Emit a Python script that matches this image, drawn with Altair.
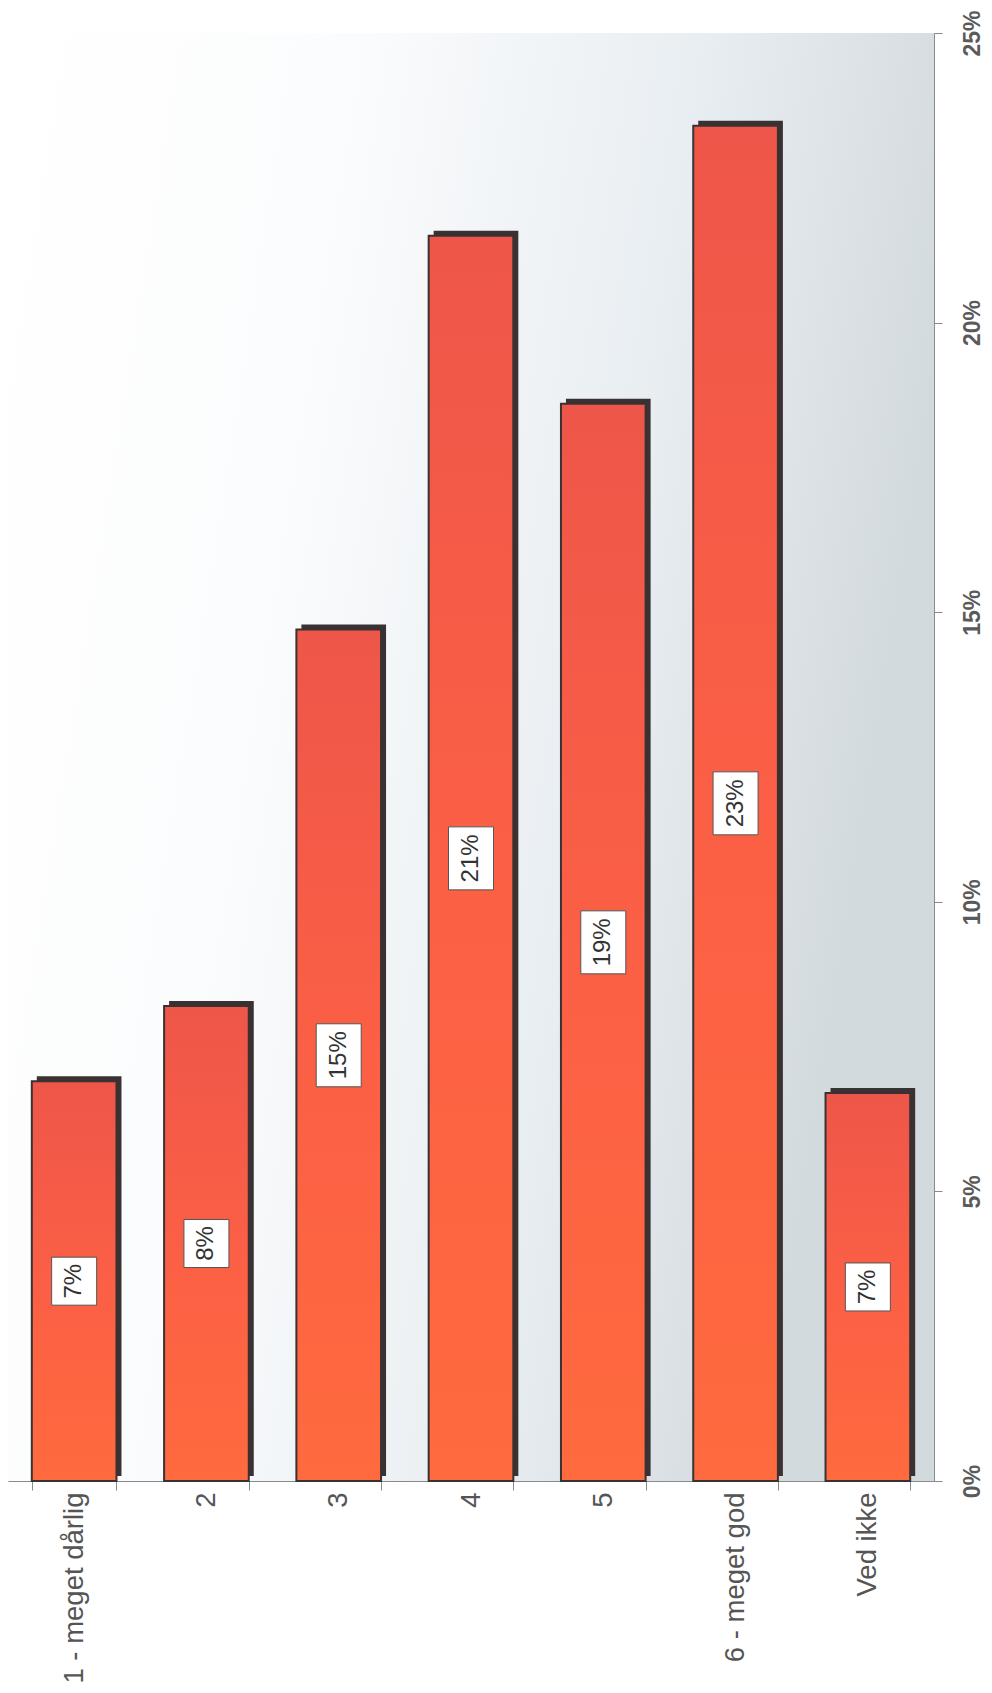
import altair as alt
import pandas as pd

categories = ["1 - meget dårlig", "2", "3", "4", "5", "6 - meget god", "Ved ikke"]
values = [6.9, 8.2, 14.7, 21.5, 18.6, 23.4, 6.7]
labels = ["7%", "8%", "15%", "21%", "19%", "23%", "7%"]
tick_values = [0, 5, 10, 15, 20, 25]

W, H = 926, 1448
PX_PER_UNIT = H / 25.0

df = pd.DataFrame({"cat": categories, "val": values, "label": labels})

base = alt.Chart(df).transform_calculate(
    mid="datum.val / 2",
    half=f"(length(datum.label) * 15 + 18) / {PX_PER_UNIT} / 2",
).transform_calculate(
    lo="datum.mid - datum.half",
    hi="datum.mid + datum.half",
)

x_enc = alt.X(
    "cat:N",
    sort=categories,
    scale=alt.Scale(paddingInner=0.36, paddingOuter=0.18),
    axis=alt.Axis(
        title=None,
        orient="bottom",
        labelAngle=270,
        labelAlign="right",
        labelBaseline="middle",
        labelFont="Liberation Sans",
        labelFontSize=27.5,
        labelColor="#555555",
        labelPadding=2,
        tickBand="extent",
        tickSize=9,
        tickColor="#8a8a8a",
        domainColor="#8a8a8a",
        labelLimit=400,
    ),
)

y_scale = alt.Scale(domain=[0, 25], nice=False, zero=True)
y_enc = alt.Y(
    "val:Q",
    scale=y_scale,
    axis=alt.Axis(
        title=None,
        orient="right",
        values=tick_values,
        labelExpr="datum.value + '%'",
        labelAngle=270,
        labelAlign="center",
        labelBaseline="top",
        labelFont="Liberation Sans",
        labelFontWeight="bold",
        labelFontSize=23,
        labelColor="#5a5a5a",
        labelPadding=19,
        tickSize=8,
        tickColor="#8a8a8a",
        domainColor="#8a8a8a",
        grid=False,
    ),
)

bg_grad = alt.LinearGradient(
    gradient="linear",
    x1=0, y1=0, x2=1, y2=0.25,
    stops=[
        alt.GradientStop(color="#ffffff", offset=0),
        alt.GradientStop(color="#fbfcfd", offset=0.35),
        alt.GradientStop(color="#e9eef2", offset=0.7),
        alt.GradientStop(color="#d3dade", offset=1),
    ],
)

background = alt.Chart(pd.DataFrame({"one": [1]})).mark_rect(color=bg_grad).encode(
    x=alt.value(0), x2=alt.value(W), y=alt.value(0), y2=alt.value(H)
)

shadow = base.mark_bar(color="#3a3232", xOffset=5, yOffset=-5).encode(
    x=x_enc, y=y_enc
)

bar_grad = alt.LinearGradient(
    gradient="linear",
    x1=0, y1=0, x2=0, y2=1,
    stops=[
        alt.GradientStop(color="#ee5649", offset=0),
        alt.GradientStop(color="#fb5f45", offset=0.5),
        alt.GradientStop(color="#ff6a3e", offset=1),
    ],
)

bars = base.mark_bar(color=bar_grad, stroke="#3a3232", strokeWidth=2).encode(
    x=x_enc, y=y_enc
)

boxes = base.mark_bar(width=45, fill="#ffffff", stroke="#555555", strokeWidth=1).encode(
    x=alt.X("cat:N", sort=categories),
    y=alt.Y("lo:Q", scale=y_scale),
    y2="hi:Q",
)

texts = base.mark_text(
    angle=270, fontSize=24, font="Liberation Sans", color="#333333",
    align="center", baseline="middle",
).encode(
    x=alt.X("cat:N", sort=categories),
    y=alt.Y("mid:Q", scale=y_scale),
    text="label:N",
)

chart = alt.layer(background, shadow, bars, boxes, texts).properties(
    width=W,
    height=H,
    autosize=alt.AutoSizeParams(type="none"),
    padding={"left": 0, "top": 25, "right": 50, "bottom": 204},
).configure_view(stroke=None).configure(background="#ffffff")

chart.save("out.html", embed_options={"renderer": "svg", "actions": False})
